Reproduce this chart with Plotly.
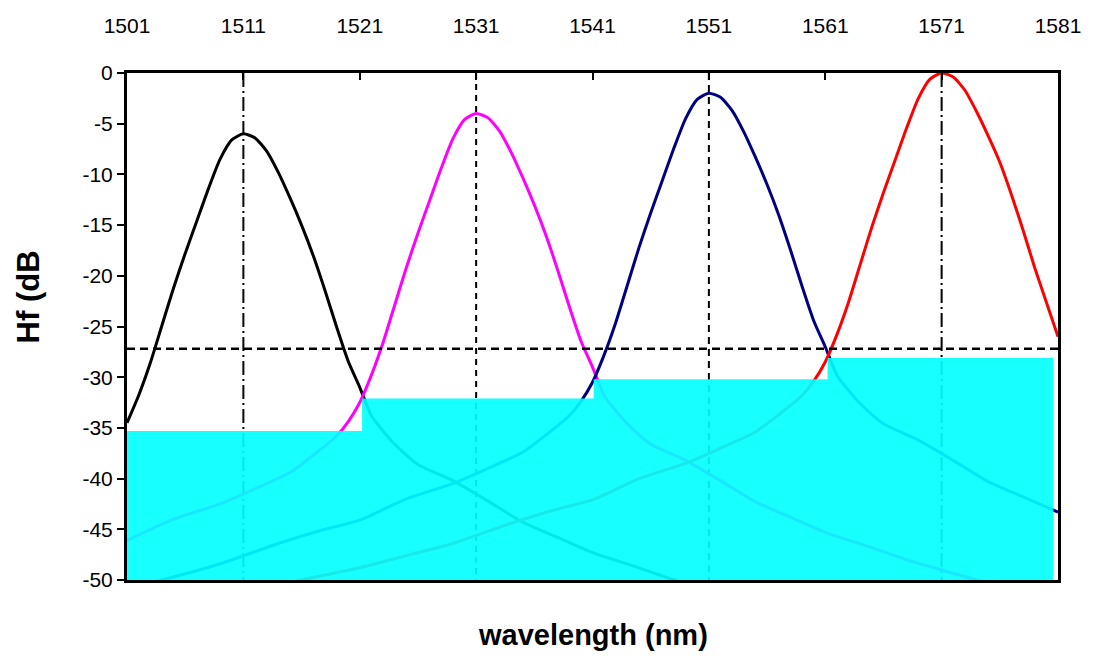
import plotly.graph_objects as go

# ---- data ----
black_x = [1501, 1502, 1503, 1504, 1505, 1506, 1507, 1508, 1509, 1510, 1511,
           1512, 1513, 1514, 1515, 1516, 1517, 1518, 1519, 1520, 1521, 1522, 1523,
           1524, 1526, 1529, 1532, 1535, 1538, 1541, 1545, 1548, 1553, 1561, 1571, 1581]
black_y = [-34.5, -31.8, -28.6, -24.9, -21.2, -17.8, -14.6, -11.4, -8.5, -6.6, -6.0,
           -6.4, -7.7, -9.8, -12.3, -15.0, -18.0, -21.4, -25.0, -28.4, -31.0, -33.8, -35.3,
           -36.6, -38.6, -40.2, -42.2, -44.3, -45.8, -47.3, -48.8, -50.0, -51.6, -54.3, -57.0, -59.5]

magenta_x = [1501, 1505, 1509, 1512, 1515, 1517, 1519, 1520, 1521, 1522, 1523, 1524, 1525,
             1526, 1527, 1528, 1529, 1530, 1531, 1532, 1533, 1534, 1535, 1536, 1537, 1538,
             1539, 1540, 1541, 1542, 1543, 1544, 1546, 1549, 1552, 1555, 1558, 1561, 1565,
             1568, 1574, 1581]
magenta_y = [-46.1, -44.0, -42.5, -41.0, -39.4, -37.7, -35.8, -34.4, -32.5, -29.8, -26.6, -22.9, -19.2,
             -15.8, -12.6, -9.4, -6.5, -4.6, -4.0, -4.4, -5.7, -7.8, -10.3, -13.0, -16.0, -19.4,
             -23.0, -26.4, -29.0, -31.8, -33.3, -34.6, -36.6, -38.2, -40.2, -42.3, -43.8, -45.3, -46.8,
             -48.0, -50.0, -52.3]

navy_x = [1501, 1504, 1509, 1514, 1518, 1521, 1525, 1529, 1532, 1535, 1537, 1539, 1540,
          1541, 1542, 1543, 1544, 1545, 1546, 1547, 1548, 1549, 1550, 1551, 1552, 1553,
          1554, 1555, 1556, 1557, 1558, 1559, 1560, 1561, 1562, 1563, 1564, 1566, 1569,
          1572, 1575, 1578, 1581]
navy_y = [-50.8, -50.0, -48.4, -46.4, -45.0, -44.1, -42.0, -40.5, -39.0, -37.4, -35.7, -33.8, -32.4,
          -30.5, -27.8, -24.6, -20.9, -17.2, -13.8, -10.6, -7.4, -4.5, -2.6, -2.0, -2.4, -3.7,
          -5.8, -8.3, -11.0, -14.0, -17.4, -21.0, -24.4, -27.0, -29.8, -31.3, -32.6, -34.6, -36.2,
          -38.2, -40.3, -41.8, -43.3]

red_x = [1501, 1506, 1511, 1516, 1521, 1525, 1529, 1534, 1538, 1541, 1545, 1549, 1552,
         1555, 1557, 1559, 1560, 1561, 1562, 1563, 1564, 1565, 1566, 1567, 1568, 1569,
         1570, 1571, 1572, 1573, 1574, 1575, 1576, 1577, 1578, 1579, 1580, 1581]
red_y = [-54.0, -52.8, -51.5, -50.0, -48.8, -47.6, -46.4, -44.4, -43.0, -42.1, -40.0, -38.5, -37.0,
         -35.4, -33.7, -31.8, -30.4, -28.5, -25.8, -22.6, -18.9, -15.2, -11.8, -8.6, -5.4, -2.5,
         -0.6, 0.0, -0.4, -1.7, -3.8, -6.2, -8.8, -12.0, -15.5, -19.2, -22.6, -26.0]

# cyan step (isolation floor)
step_x = [1501, 1521.2, 1521.2, 1541.1, 1541.1, 1561.2, 1561.2, 1580.6]
step_y = [-35.3, -35.3, -32.1, -32.1, -30.2, -30.2, -28.1, -28.1]
floor_y = -50

channel_centers = [1511, 1531, 1551, 1571]
threshold_y = -27.2

x_ticks = [1501, 1511, 1521, 1531, 1541, 1551, 1561, 1571, 1581]
y_ticks = [0, -5, -10, -15, -20, -25, -30, -35, -40, -45, -50]
y_ticktext = ["0", "-5", "-10", "-15", "-20", "-25", "-30", "-35", "-40", "-45", "-50"]

# ---- figure ----
fig = go.Figure()

# vertical marker lines at channel centres (under everything)
dashes = ["14px,4px,2px,4px", "6px,5px", "7px,5px", "14px,4px,2px,4px"]
for cx, dsh in zip(channel_centers, dashes):
    fig.add_shape(type="line", xref="x", yref="y", x0=cx, x1=cx, y0=0, y1=floor_y,
                  line=dict(color="black", width=2, dash=dsh), layer="below")

line_style = dict(width=3, shape="spline", smoothing=0.6)
for xs, ys, col in [(black_x, black_y, "#000000"),
                    (magenta_x, magenta_y, "#FF00FF"),
                    (navy_x, navy_y, "#000080"),
                    (red_x, red_y, "#FF0000")]:
    fig.add_trace(go.Scatter(x=xs, y=ys, mode="lines",
                             line=dict(color=col, **line_style),
                             showlegend=False, hoverinfo="skip"))

# cyan filled steps (slightly translucent so the tails show through)
poly_x = step_x + [step_x[-1], step_x[0]]
poly_y = step_y + [floor_y, floor_y]
fig.add_trace(go.Scatter(x=poly_x, y=poly_y, mode="lines", fill="toself",
                         fillcolor="rgba(0,255,255,0.91)",
                         line=dict(width=0, color="rgba(0,0,0,0)"),
                         showlegend=False, hoverinfo="skip"))

# threshold dashed line
fig.add_shape(type="line", xref="x", yref="y", x0=x_ticks[0], x1=x_ticks[-1],
              y0=threshold_y, y1=threshold_y,
              line=dict(color="black", width=2.5, dash="8px,5px"), layer="above")

tick_font = dict(family="Liberation Sans, Arial, sans-serif", size=21, color="black")
fig.update_xaxes(range=[x_ticks[0], x_ticks[-1]], side="top", automargin=False,
                 tickmode="array", tickvals=x_ticks,
                 ticks="inside", ticklen=7, tickwidth=1.5, tickcolor="black",
                 ticklabelstandoff=29,
                 showline=True, linecolor="black", linewidth=3, mirror=True,
                 showgrid=False, zeroline=False, tickfont=tick_font)
fig.update_yaxes(range=[floor_y, 0], automargin=False,
                 tickmode="array", tickvals=y_ticks, ticktext=y_ticktext,
                 ticks="outside", ticklen=7, tickwidth=1.5, tickcolor="black",
                 showline=True, linecolor="black", linewidth=3, mirror=True,
                 showgrid=False, zeroline=False, tickfont=tick_font)

fig.add_annotation(text="<b>wavelength (nm)</b>", xref="paper", yref="paper",
                   x=0.5, y=-0.108, showarrow=False, xanchor="center", yanchor="middle",
                   font=dict(family="Liberation Sans, Arial, sans-serif", size=29, color="black"))
fig.add_annotation(text="<b>Hf (dB</b>", xref="paper", yref="paper",
                   x=-0.106, y=0.558, showarrow=False, textangle=-90,
                   xanchor="center", yanchor="middle",
                   font=dict(family="Liberation Sans, Arial, sans-serif", size=31, color="black"))

# the page adds an 8px body margin, so the figure is sized to fit the window
fig.update_layout(width=1085, height=651, margin=dict(l=119, r=35, t=65, b=79),
                  paper_bgcolor="white", plot_bgcolor="white")

fig.write_html("out.html")
